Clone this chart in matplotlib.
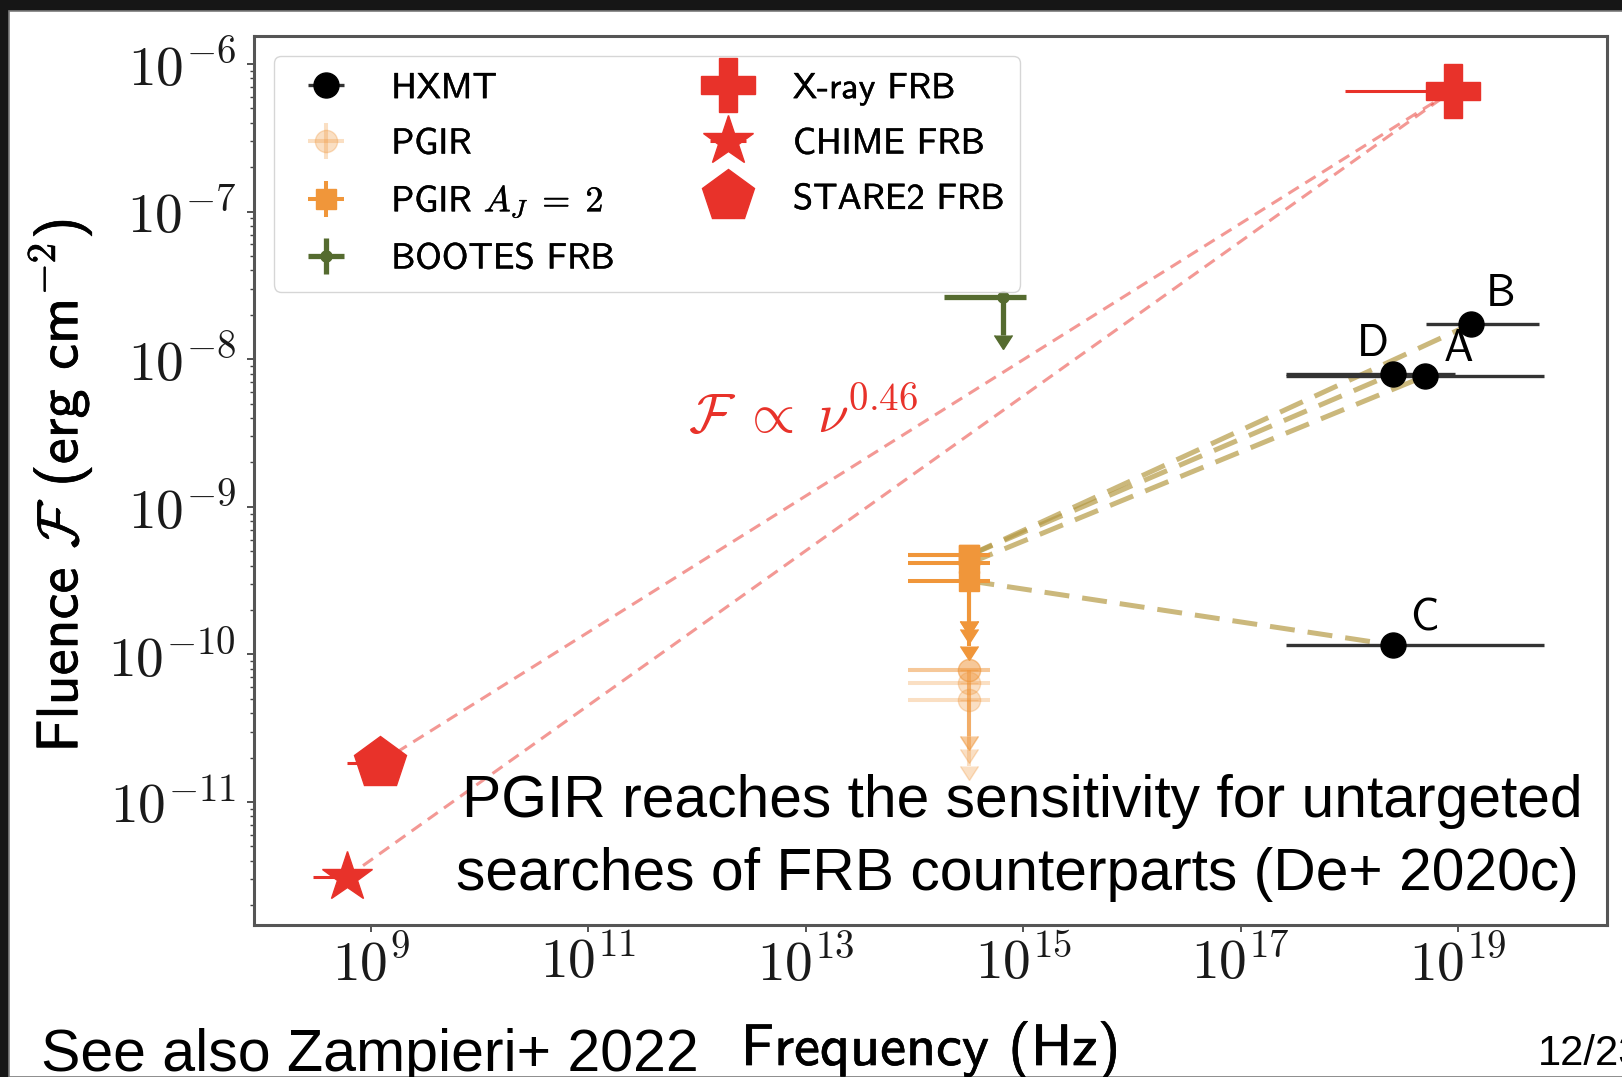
import numpy as np
import matplotlib
matplotlib.use("Agg")
import matplotlib.pyplot as plt
import matplotlib.patheffects as pe
from matplotlib.patches import Rectangle
from matplotlib.ticker import LogLocator, NullLocator, FuncFormatter

plt.rcParams['mathtext.fontset'] = 'cm'
plt.rcParams['axes.formatter.use_mathtext'] = True

# ---- data -----------------------------------------------------------------
# HXMT bursts (frequency of point, band edges, fluence)
hxmt_names = ['A', 'B', 'C', 'D']
hxmt_freq = np.array([5.0e18, 1.32e19, 2.5e18, 2.5e18])
hxmt_freq_lo = np.array([2.6e17, 5.1e18, 2.6e17, 2.6e17])
hxmt_freq_hi = np.array([6.2e19, 5.6e19, 6.2e19, 9.3e18])
hxmt_fluence = np.array([7.7e-9, 1.73e-8, 1.16e-10, 7.94e-9])

# PGIR J-band upper limits, one per HXMT burst
pgir_freq = np.array([3.2e14, 3.2e14, 3.2e14, 3.2e14])
pgir_freq_lo = 8.7e13
pgir_freq_hi = 4.9e14
pgir_fluence = np.array([6.4e-11, 7.8e-11, 4.9e-11, 7.8e-11])
pgir_aj2_fluence = np.array([4.15e-10, 4.7e-10, 3.15e-10, 4.7e-10])

# BOOTES optical upper limit
bootes_freq = 6.5e14
bootes_freq_lo = 1.86e14
bootes_freq_hi = 1.07e15
bootes_fluence = 2.64e-8

# FRB 200428 detections
xray_freq, xray_freq_lo, xray_fluence = 8.9e18, 9.1e17, 6.6e-7
chime_freq, chime_freq_lo, chime_fluence = 6.0e8, 2.9e8, 3.1e-12
stare2_freq, stare2_freq_lo, stare2_fluence = 1.2e9, 6.0e8, 1.84e-11

# depth of the upper-limit arrows (fraction of value)
pgir_limit_drop = 0.64
bootes_limit_drop = 0.45

xticks = [1e9, 1e11, 1e13, 1e15, 1e17, 1e19]
yticks = [1e-11, 1e-10, 1e-9, 1e-8, 1e-7, 1e-6]

# ---- colours --------------------------------------------------------------
RED = '#e8322a'
ORANGE = '#f0963a'
GREEN = '#556b2f'
TAN = '#b59a45'

W, H = 1622, 1077
fig = plt.figure(figsize=(W / 100, H / 100), dpi=100)
fig.patch.set_facecolor('#161616')
fig.add_artist(Rectangle((9 / W, 0), 1.0, (H - 11) / H, transform=fig.transFigure,
                         facecolor='white', edgecolor='#7a7a7a', lw=1.2, zorder=-1))

ax = fig.add_axes([254 / W, 1 - 925 / H, (1607 - 254) / W, (925 - 36) / H])
ax.set_xscale('log')
ax.set_yscale('log')
ax.set_xlim(10 ** 7.924, 10 ** 20.37)
ax.set_ylim(10 ** -11.833, 10 ** -5.81)

# power-law guides from the radio bursts to the X-ray burst
for f, F in [(stare2_freq, stare2_fluence), (chime_freq, chime_fluence)]:
    ax.plot([f, xray_freq], [F, xray_fluence], color=RED, alpha=0.5, lw=2.2,
            dashes=(4, 2.5), zorder=1)

# connections PGIR (A_J=2) -> HXMT bursts
for i in range(len(hxmt_freq)):
    ax.plot([pgir_freq[i], hxmt_freq[i]], [pgir_aj2_fluence[i], hxmt_fluence[i]],
            color=TAN, alpha=0.7, lw=3.6, dashes=(5, 2.6), zorder=1.5)

ax.errorbar(hxmt_freq, hxmt_fluence,
            xerr=[hxmt_freq - hxmt_freq_lo, hxmt_freq_hi - hxmt_freq],
            fmt='o', color='black', ms=18, ecolor='#333333', elinewidth=2.4,
            capsize=0, label='HXMT', zorder=3)

pg_xerr = [pgir_freq - pgir_freq_lo, pgir_freq_hi - pgir_freq]
eb_pgir = ax.errorbar(pgir_freq, pgir_fluence, xerr=pg_xerr,
                      yerr=pgir_limit_drop * pgir_fluence, uplims=True,
                      fmt='o', color=ORANGE, alpha=0.3, ms=16, elinewidth=2.9,
                      capsize=6.5, label='PGIR', zorder=2)
eb_aj2 = ax.errorbar(pgir_freq, pgir_aj2_fluence, xerr=pg_xerr,
                     yerr=pgir_limit_drop * pgir_aj2_fluence, uplims=True,
                     fmt='s', color=ORANGE, ms=14, elinewidth=2.9,
                     capsize=6.5, label=r'PGIR $A_J\;=\;2$', zorder=2.5)
eb_bootes = ax.errorbar([bootes_freq], [bootes_fluence],
                        xerr=[[bootes_freq - bootes_freq_lo], [bootes_freq_hi - bootes_freq]],
                        yerr=[bootes_limit_drop * bootes_fluence], uplims=True,
                        fmt='o', color=GREEN, ms=8, elinewidth=3.8,
                        capsize=6.5, label='BOOTES FRB', zorder=2)
for eb in (eb_pgir, eb_aj2, eb_bootes):
    for cap in eb[1]:
        if cap.get_marker() == '|':
            cap.set_markersize(0)

ax.errorbar([xray_freq], [xray_fluence], xerr=[[xray_freq - xray_freq_lo], [0]],
            fmt='P', ms=39, color=RED, elinewidth=2.2, label='X-ray FRB', zorder=4)
ax.errorbar([chime_freq], [chime_fluence], xerr=[[chime_freq - chime_freq_lo], [0]],
            fmt='*', ms=38, color=RED, elinewidth=2.2, label='CHIME FRB', zorder=4)
ax.errorbar([stare2_freq], [stare2_fluence], xerr=[[stare2_freq - stare2_freq_lo], [0]],
            fmt='p', ms=39, color=RED, elinewidth=2.2, label='STARE2 FRB', zorder=4)

# burst letters
letter_offsets = {'A': (24, 19), 'B': (21, 21), 'C': (23, 19), 'D': (-14, 21)}
for name, f, F in zip(hxmt_names, hxmt_freq, hxmt_fluence):
    ax.annotate(name, (f, F), xytext=letter_offsets[name], textcoords='offset points',
                fontfamily='cmss10', fontsize=32, ha='center', va='center', zorder=5)

ax.text(8.3e11, 4.1e-9, r'$\mathcal{F}\;\propto\;\nu^{0.46}$', color=RED, fontsize=40,
        ha='left', va='center')

leg = ax.legend(ncol=2, loc='upper left', prop={'family': 'cmss10', 'size': 26},
                columnspacing=2.15, handlelength=2.0, handletextpad=0.8,
                labelspacing=0.62, borderpad=0.45, borderaxespad=0.55)
for t in leg.get_texts():
    t.set_path_effects([pe.withStroke(linewidth=0.3, foreground='black')])

# axes styling
ax.set_xticks(xticks)
ax.xaxis.set_minor_locator(NullLocator())
ax.set_yticks(yticks)
ax.yaxis.set_minor_locator(LogLocator(base=10, subs=np.arange(2, 10), numticks=20))
pow10 = FuncFormatter(lambda v, pos: r'$10^{%d}$' % int(round(np.log10(v))))
ax.xaxis.set_major_formatter(pow10)
ax.yaxis.set_major_formatter(pow10)
ax.tick_params(which='major', direction='out', length=5, width=1.3, color='#444444',
               labelsize=40, labelcolor='#1a1a1a', top=False, right=False)
ax.tick_params(axis='y', which='major', pad=8)
ax.tick_params(which='minor', direction='out', length=3, width=1.0, color='#444444')
for sp in ax.spines.values():
    sp.set_linewidth(2.2)
    sp.set_color('#555555')

ax.set_xlabel('Frequency (Hz)', fontfamily='cmss10', fontsize=42)
ax.xaxis.set_label_coords(0.5, -0.1575)
ax.xaxis.label.set_va('baseline')
ax.set_ylabel(r'Fluence $\mathcal{F}$ (erg cm$^{-2}$)', fontfamily='cmss10', fontsize=42)
ax.yaxis.set_label_coords(-0.1434, 0.494)
ax.yaxis.label.set_va('center')
for lab in (ax.xaxis.label, ax.yaxis.label):
    lab.set_path_effects([pe.withStroke(linewidth=0.45, foreground='black')])

# slide text
sans = 'Liberation Sans'
fig.text(462 / W, 1 - 817 / H, 'PGIR reaches the sensitivity for untargeted',
         fontfamily=sans, fontsize=42.3, va='baseline', ha='left', color='black')
fig.text(456 / W, 1 - 890 / H, 'searches of FRB counterparts (De+ 2020c)',
         fontfamily=sans, fontsize=42.3, va='baseline', ha='left', color='black')
fig.text(41 / W, 1 - 1071 / H, 'See also Zampieri+ 2022',
         fontfamily=sans, fontsize=42.5, va='baseline', ha='left', color='black')
fig.text(1538 / W, 1 - 1065 / H, '12/23',
         fontfamily=sans, fontsize=30, va='baseline', ha='left', color='black')

fig.savefig('out.png', dpi=100, facecolor=fig.get_facecolor())
